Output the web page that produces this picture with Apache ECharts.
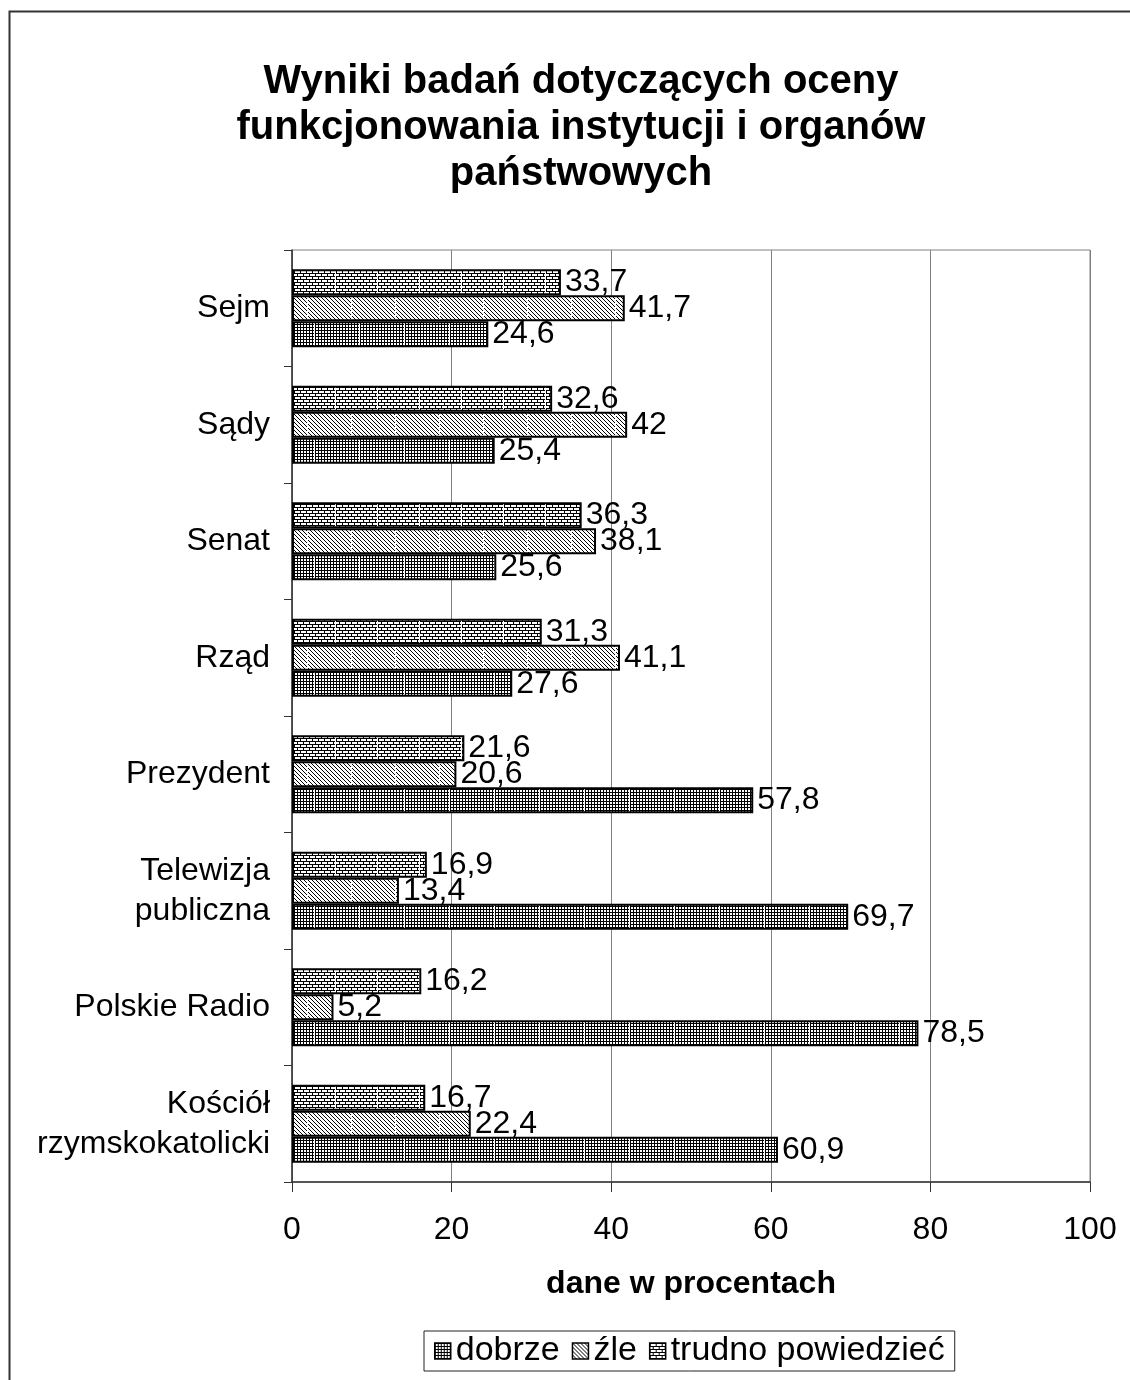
<!DOCTYPE html>
<html>
<head>
<meta charset="utf-8">
<script src="https://cdn.jsdelivr.net/npm/echarts@6/dist/echarts.min.js"></script>
<style>html,body{margin:0;padding:0;background:#fff;}#chart{width:1130px;height:1380px;}</style>
</head>
<body>
<div id="chart"></div>
<script>
const categories = ['Sejm', 'Sądy', 'Senat', 'Rząd', 'Prezydent', 'Telewizja\npubliczna', 'Polskie Radio', 'Kościół\nrzymskokatolicki'];
const dobrze = [24.6, 25.4, 25.6, 27.6, 57.8, 69.7, 78.5, 60.9];
const zle = [41.7, 42, 38.1, 41.1, 20.6, 13.4, 5.2, 22.4];
const trudno = [33.7, 32.6, 36.3, 31.3, 21.6, 16.9, 16.2, 16.7];
const xTicks = [0, 20, 40, 60, 80, 100];

function makePattern(type, withGaps) {
  const c = document.createElement('canvas');
  let w, h;
  if (type === 'grid') { w = withGaps ? 45 : 3; h = 3; }
  else if (type === 'diag') { w = withGaps ? 44 : 4; h = 4; }
  else { w = withGaps ? 42 : 6; h = 6; }
  c.width = w; c.height = h;
  const g = c.getContext('2d');
  g.fillStyle = '#fff'; g.fillRect(0, 0, w, h);
  g.fillStyle = '#000';
  for (let x = 0; x < w; x++) {
    for (let y = 0; y < h; y++) {
      let on = false;
      if (type === 'grid') on = (x % 3 === 0) || (y % 3 === 0);
      else if (type === 'diag') on = ((x - y) % 4 + 4) % 4 === 0;
      else on = (y % 3 === 0) || (y < 3 ? x % 6 === 0 : x % 6 === 3);
      if (on) g.fillRect(x, y, 1, 1);
    }
  }
  if (withGaps) { g.fillStyle = '#fff'; g.fillRect(w - 1, 0, 1, h); }
  return { image: c, repeat: 'repeat' };
}

const FONT = 'Liberation Sans, Arial, sans-serif';
const fmt = p => String(p.value).replace('.', ',');

function mkSeries(name, data, pattern) {
  return {
    name: name, type: 'bar', data: data,
    barWidth: 26, barGap: '0%',
    itemStyle: { color: makePattern(pattern, true), borderColor: '#000', borderWidth: 2 },
    label: { show: true, position: 'right', distance: 4, formatter: fmt,
      color: '#000', fontSize: 32, fontFamily: FONT },
    emphasis: { disabled: true }
  };
}

const chart = echarts.init(document.getElementById('chart'));
chart.setOption({
  animation: false,
  backgroundColor: '#fff',
  title: {
    text: 'Wyniki badań dotyczących oceny\nfunkcjonowania instytucji i organów\npaństwowych',
    left: 576, top: 54, textAlign: 'center',
    textStyle: { fontSize: 40, fontWeight: 'bold', lineHeight: 46, fontFamily: FONT, color: '#000' }
  },
  graphic: [{
    type: 'rect', shape: { x: 9.5, y: 11.5, width: 1300, height: 1500 },
    style: { fill: 'none', stroke: '#333', lineWidth: 2 }, silent: true
  }],
  legend: {
    data: [
      { name: 'dobrze', itemStyle: { color: makePattern('grid', false) } },
      { name: 'źle', itemStyle: { color: makePattern('diag', false) } },
      { name: 'trudno powiedzieć', itemStyle: { color: makePattern('brick', false) } }
    ],
    left: 424, top: 1331,
    icon: 'rect', itemWidth: 16, itemHeight: 16, itemGap: 12,
    borderColor: '#222', borderWidth: 1, padding: [3, 10], borderRadius: 0,
    textStyle: { fontSize: 34, fontFamily: FONT, color: '#000' },
    itemStyle: { borderColor: '#000', borderWidth: 1.5 }
  },
  grid: { left: 292, right: 40, top: 250, bottom: 198, show: true, borderColor: '#808080', borderWidth: 1 },
  xAxis: {
    type: 'value', min: 0, max: 100, interval: 20,
    name: 'dane w procentach', nameLocation: 'middle', nameGap: 86,
    nameTextStyle: { fontSize: 32, fontWeight: 'bold', fontFamily: FONT, color: '#000' },
    axisLine: { show: true, lineStyle: { color: '#333', width: 1.5 } },
    axisTick: { show: true, length: 10, lineStyle: { color: '#333' } },
    axisLabel: { margin: 32, fontSize: 32, fontFamily: FONT, color: '#000',
      formatter: v => xTicks.indexOf(v) >= 0 ? String(v) : '' },
    splitLine: { show: true, lineStyle: { color: '#808080', width: 1 } }
  },
  yAxis: {
    type: 'category', data: categories, inverse: true,
    axisLine: { show: true, lineStyle: { color: '#333', width: 1.5 } },
    axisTick: { show: true, length: 8, lineStyle: { color: '#333' } },
    axisLabel: { margin: 22, fontSize: 32, lineHeight: 40, fontFamily: FONT, color: '#000', align: 'right' },
    splitLine: { show: false }
  },
  series: [
    mkSeries('trudno powiedzieć', trudno, 'brick'),
    mkSeries('źle', zle, 'diag'),
    mkSeries('dobrze', dobrze, 'grid')
  ]
});
</script>
</body>
</html>
